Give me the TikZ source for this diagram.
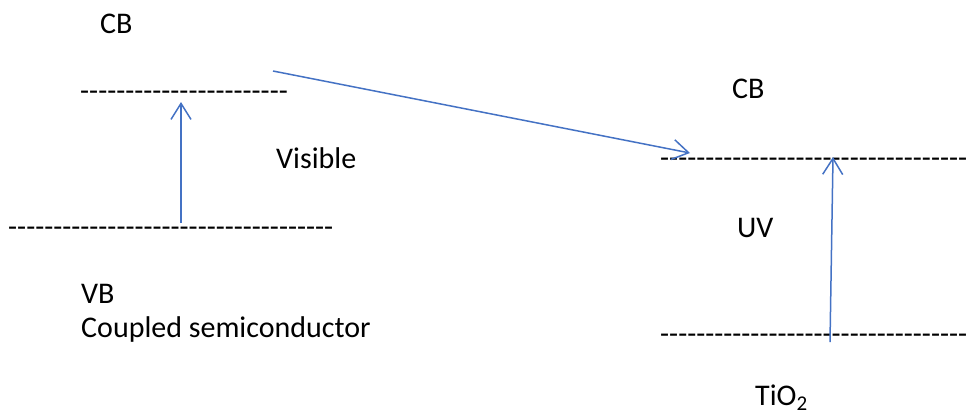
\documentclass[tikz,border=0pt]{standalone}
\usepackage{fontspec}
\setmainfont{Carlito}
% hyphen rows are set without TeX ligatures so "--" stays two hyphens
\newfontfamily\dashfont{Carlito}
\usetikzlibrary{arrows.meta}
\definecolor{arrowblue}{RGB}{68,114,196}
\tikzset{
  label/.style={font=\fontsize{30bp}{36bp}\selectfont, inner sep=0pt, anchor=base west},
  level/.style={font=\dashfont\fontsize{29.5bp}{35bp}\selectfont, inner sep=0pt, anchor=base west},
  excite/.style={draw=arrowblue, line width=1.5bp,
    -{Straight Barb[length=16bp,width=20bp,line width=1.5bp]}}
}
\begin{document}
\begin{tikzpicture}[x=1bp,y=-1bp]
\useasboundingbox (0,0) rectangle (971,416);

% coupled semiconductor levels
\node[label] (cb1) at (100,33) {CB};
\node[level] (cbline1) at (80,100.5) {-----------------------};
\node[level] (vbline1) at (8,236.5) {------------------------------------};
\node[label] (vis) at (276,168) {Visible};
\node[label] (vb1) at (81,303) {VB};
\node[label] (cs) at (81,337) {Coupled semiconductor};

% TiO2 levels
\node[label] (cb2) at (732,98) {CB};
\node[level] (cbline2) at (660,167.5) {----------------------------------};
\node[label] (uv) at (737,237) {UV};
\node[level] (vbline2) at (660,343.5) {----------------------------------};
\node[label] (tio) at (755,405) {TiO\textsubscript{2}};

% arrow end points
\coordinate (a1s) at (181,223);
\coordinate (a1e) at (181,102);
\coordinate (a2s) at (273,71);
\coordinate (a2e) at (690,153);
\coordinate (a3s) at (830,342);
\coordinate (a3e) at (833,157);

\draw[excite] (a1s) -- (a1e);
\draw[excite] (a2s) -- (a2e);
\draw[excite] (a3s) -- (a3e);
\end{tikzpicture}
\end{document}
